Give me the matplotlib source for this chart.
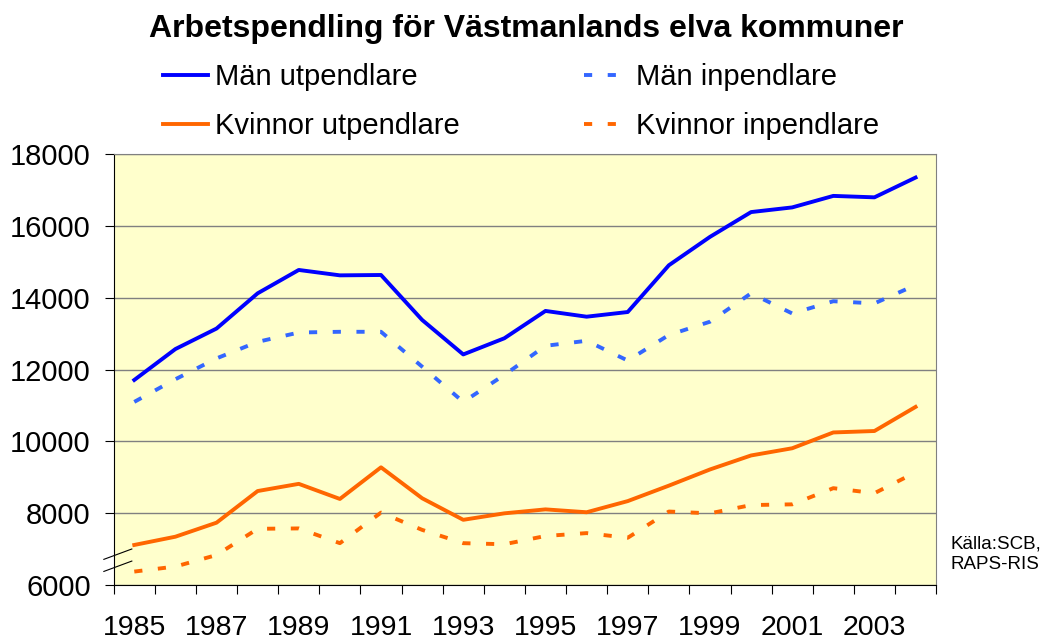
import numpy as np
import matplotlib.pyplot as plt
from matplotlib.lines import Line2D

plt.rcParams['font.family'] = ['Liberation Sans', 'DejaVu Sans']

years = list(range(1985, 2005))
man_ut = [11710, 12570, 13140, 14120, 14770, 14620, 14630, 13380, 12420, 12870,
          13630, 13470, 13600, 14900, 15690, 16380, 16510, 16830, 16790, 17340]
man_in = [11100, 11730, 12310, 12770, 13030, 13050, 13050, 12080, 11100, 11850,
          12660, 12800, 12250, 12960, 13330, 14120, 13560, 13900, 13840, 14350]
kv_ut = [7120, 7350, 7740, 8620, 8820, 8400, 9280, 8420, 7820, 8000,
         8110, 8030, 8340, 8770, 9220, 9610, 9810, 10250, 10290, 10960]
kv_in = [6380, 6520, 6840, 7570, 7580, 7170, 8020, 7540, 7170, 7140,
         7370, 7450, 7320, 8050, 8000, 8230, 8250, 8700, 8560, 9140]

yticks = [6000, 8000, 10000, 12000, 14000, 16000, 18000]

fig = plt.figure(figsize=(10.53, 6.41), dpi=100)
ax = fig.add_axes([0.108, 0.087, 0.781, 0.673])
ax.set_facecolor('#FFFFCC')

x = np.arange(len(years))
dash = (0, (2.1, 4.0))
lw = 2.8
l1, = ax.plot(x, man_ut, color='#0000FF', lw=lw, label='Män utpendlare')
l2, = ax.plot(x, man_in, color='#3366FF', lw=lw, ls=dash, label='Män inpendlare')
l3, = ax.plot(x, kv_ut, color='#FF6600', lw=lw, label='Kvinnor utpendlare')
l4, = ax.plot(x, kv_in, color='#FF6600', lw=lw, ls=dash, label='Kvinnor inpendlare')

ax.set_xlim(-0.5, len(years) - 0.5)
ax.set_ylim(6000, 18000)
ax.set_yticks(yticks)
ax.set_yticklabels([str(v) for v in yticks])
ax.set_xticks(np.arange(-0.5, len(years), 1))
ax.set_xticklabels([])
for i, yr in enumerate(years):
    if yr % 2 == 1:
        ax.text(i, -0.10, str(yr), transform=ax.get_xaxis_transform(),
                ha='center', va='center', fontsize=20.5)
ax.tick_params(axis='y', labelsize=21, length=6.5, pad=10, color='black', direction='out')
ax.tick_params(axis='x', length=6.5, color='black', direction='out')
ax.grid(axis='y', color='#808080', lw=1)
ax.set_axisbelow(True)
for s in ['top', 'right']:
    ax.spines[s].set_color('#808080')
for s in ['left', 'bottom']:
    ax.spines[s].set_color('black')

# axis break marks
for y0 in [0.06, 0.032]:
    ax.add_line(Line2D([-0.012, 0.022], [y0, y0 + 0.024], transform=ax.transAxes,
                       color='black', lw=0.8, clip_on=False))

fig.text(0.5, 0.942, 'Arbetspendling för Västmanlands elva kommuner',
         ha='center', va='baseline', fontsize=23, fontweight='bold')

fig.legend([l1, l3, l2, l4], [l.get_label() for l in [l1, l3, l2, l4]],
           loc='upper left', bbox_to_anchor=(0.155, 0.902), ncol=2,
           frameon=False, fontsize=21, handlelength=1.55, handletextpad=0.24,
           columnspacing=4.25, labelspacing=0.72, borderpad=0, borderaxespad=0)

fig.text(0.903, 0.135, 'Källa:SCB,\nRAPS-RIS', fontsize=13.5, va='center',
         linespacing=1.3)

fig.savefig('out.png', dpi=100)
